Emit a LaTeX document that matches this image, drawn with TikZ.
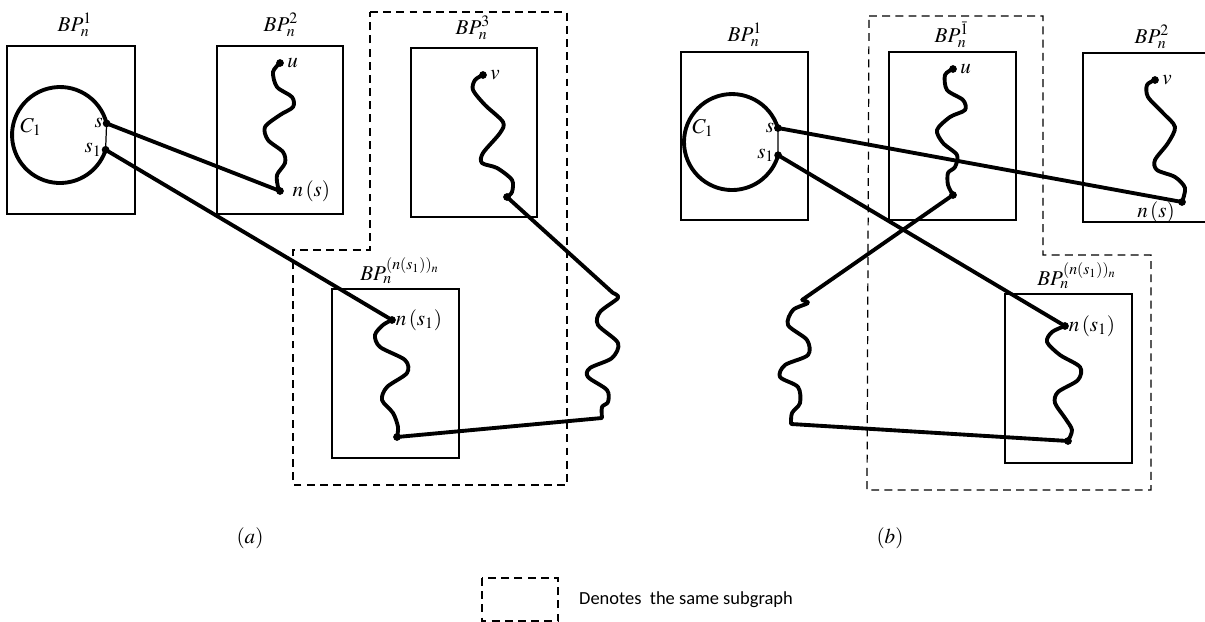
\documentclass[tikz,border=0pt]{standalone}
\usepackage{mathptmx}
\usepackage{fontspec}
\newfontfamily\legendfont{Carlito}
\usetikzlibrary{positioning}
\begin{document}
\begin{tikzpicture}[x=0.02cm,y=-0.02cm,
    box/.style={line width=0.7pt},
    same/.style={line width=0.7pt,dash pattern=on 4.5pt off 3pt},
    walk/.style={line width=2.2pt,line cap=round,line join=round},
    edge/.style={line width=2.2pt},
    lbl/.style={font=\fontsize{12}{14}\selectfont,inner sep=1pt}]
    \useasboundingbox (0,0) rectangle (1205,622);

    %(a) boxes
    \draw[box] (7,46) rectangle (135,214);
    \draw[box] (217,46) rectangle (343,214);
    \draw[box] (411,48) rectangle (537,217);
    \draw[box] (332,289) rectangle (459,458);
    \node[lbl] (bpa1) at (75,25) {$BP_n^1$};
    \node[lbl] (bpa2) at (281,25) {$BP_n^2$};
    \node[lbl] (bpa3) at (473,28) {$BP_n^3$};
    \node[lbl] (bpa4) at (400,271) {$BP_n^{(n(s_1))_n}$};
    \draw[same] (370,12) -- (567,12) -- (567,485) -- (293,485) -- (293,250) -- (370,250) -- cycle;

    %(a) vertices
    \coordinate (sA) at (106.6,123.4);
    \coordinate (s1A) at (105.6,149.8);
    \coordinate (uA) at (280,63);
    \coordinate (nsA) at (280,191);
    \coordinate (vA) at (483,75);
    \coordinate (eA) at (507,197);
    \coordinate (hA) at (613,293);
    \coordinate (kA) at (602,418);
    \coordinate (ns1A) at (392,320);
    \coordinate (fA) at (397,437);

    \draw[walk] (sA) arc[start angle=14, end angle=342, radius=0.96cm];
    \draw[box] (sA) -- (s1A);
    \draw[edge] (sA) -- (nsA);
    \draw[edge] (s1A) -- (ns1A);
    \draw[edge] (eA) -- (hA);
    \draw[edge] (kA) -- (fA);

    \draw[walk] plot[smooth] coordinates {(uA) (273,72) (277,87) (292,97) (293,107) (280,115) (265,127) (268,140) (283,152) (285,163) (277,175) (278,187) (nsA)};
    \draw[walk] plot[smooth] coordinates {(vA) (475,80) (473,90) (485,105) (503,122) (500,133) (483,153) (482,163) (497,168) (512,180) (512,192) (eA)};
    \draw[walk] plot[smooth] coordinates {(hA) (618,298) (600,312) (598,325) (618,343) (612,358) (590,368) (588,377) (607,390) (608,402) (602,407) (kA)};
    \draw[walk] plot[smooth] coordinates {(ns1A) (383,325) (375,335) (380,347) (405,360) (407,373) (387,387) (382,400) (393,413) (398,427) (fA)};

    \foreach \p in {sA,s1A,uA,nsA,vA,eA,ns1A,fA}
        \fill (\p) circle (2.2pt);

    \node[lbl] (c1a) at (31,127) {$C_1$};
    \node[lbl,left=1pt of sA] (lsA) {$s$};
    \node[lbl,left=1pt of s1A] (ls1A) {$s_1$};
    \node[lbl,right=3pt of uA] (luA) {$u$};
    \node[lbl,right=6pt of nsA] (lnsA) {$n\left(s\right)$};
    \node[lbl,right=3pt of vA] (lvA) {$v$};
    \node[lbl,right=1pt of ns1A] (lns1A) {$n\left(s_1\right)$};
    \node[lbl] (capa) at (250,538) {$(a)$};

    %(b) boxes
    \draw[box] (681,52) rectangle (808,220);
    \draw[box] (889,52) rectangle (1016,220);
    \draw[box] (1205,53) -- (1083,53) -- (1083,222) -- (1205,222);
    \draw[box] (1005,294) rectangle (1132,463);
    \node[lbl] (bpb1) at (745,35) {$BP_n^1$};
    \node[lbl] (bpb2) at (952,35) {$BP_n^{\bar{1}}$};
    \node[lbl] (bpb3) at (1152,37) {$BP_n^2$};
    \node[lbl] (bpb4) at (1077,276) {$BP_n^{(n(s_1))_n}$};
    \draw[same] (869,16) -- (1043,16) -- (1043,255) -- (1151,255) -- (1151,490) -- (867,490) -- cycle;

    %(b) vertices
    \coordinate (sB) at (777.9,128);
    \coordinate (s1B) at (778.1,155.2);
    \coordinate (uB) at (953,69);
    \coordinate (wB) at (953,195);
    \coordinate (vB) at (1155,80);
    \coordinate (nsB) at (1182,202);
    \coordinate (ns1B) at (1065,326);
    \coordinate (fB) at (1068,441);
    \coordinate (gB) at (791,424);
    \coordinate (hB) at (802,300);

    \draw[walk] (sB) arc[start angle=17, end angle=344, radius=0.96cm];
    \draw[box] (sB) -- (s1B);
    \draw[edge] (sB) -- (nsB);
    \draw[edge] (s1B) -- (ns1B);
    \draw[edge] (fB) -- (gB);
    \draw[edge] (hB) -- (wB);

    \draw[walk] plot[smooth] coordinates {(uB) (945,75) (947,90) (963,100) (965,110) (950,117) (937,130) (943,143) (957,155) (955,167) (948,173) (948,185) (wB)};
    \draw[walk] plot[smooth] coordinates {(vB) (1147,85) (1148,97) (1163,113) (1175,127) (1168,143) (1155,160) (1157,170) (1175,177) (1185,188) (nsB)};
    \draw[walk] plot[smooth] coordinates {(ns1B) (1052,332) (1047,342) (1060,355) (1080,367) (1078,380) (1058,392) (1055,403) (1065,418) (1072,430) (fB)};
    \draw[walk] plot[smooth] coordinates {(gB) (792,413) (800,403) (798,387) (780,377) (785,365) (808,355) (807,340) (788,325) (793,310) (808,303) (hB)};

    \foreach \p in {sB,s1B,uB,wB,vB,nsB,ns1B,fB}
        \fill (\p) circle (2.2pt);

    \node[lbl] (c1b) at (703,128) {$C_1$};
    \node[lbl,left=1pt of sB] (lsB) {$s$};
    \node[lbl,left=1pt of s1B] (ls1B) {$s_1$};
    \node[lbl,right=3pt of uB] (luB) {$u$};
    \node[lbl,right=3pt of vB] (lvB) {$v$};
    \node[lbl] (lnsB) at (1156,212) {$n\left(s\right)$};
    \node[lbl,right=1pt of ns1B] (lns1B) {$n\left(s_1\right)$};
    \node[lbl] (capb) at (890,538) {$(b)$};

    %legend
    \draw[same] (482,578) rectangle (558,621);
    \node[anchor=west,font=\legendfont\fontsize{10.5}{12}\selectfont] (legend) at (573,600) {Denotes\ \ the same subgraph};
\end{tikzpicture}
\end{document}
